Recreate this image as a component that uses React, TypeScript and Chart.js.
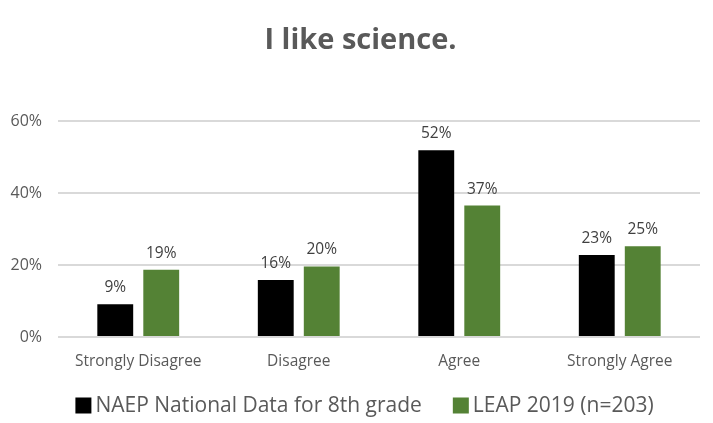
import React, { useEffect, useRef } from "react";
import { Chart, registerables } from "chart.js";

Chart.register(...registerables);

const categories = ["Strongly Disagree", "Disagree", "Agree", "Strongly Agree"];
const naepValues = [9.1, 15.8, 51.9, 22.8];
const leapValues = [18.7, 19.6, 36.5, 25.2];
const naepLabel = "NAEP National Data for 8th grade";
const leapLabel = "LEAP 2019 (n=203)";
const yTicks = [0, 20, 40, 60];
const titleText = "I like science.";
const naepColor = "#000000";
const leapColor = "#548235";

const FONT = "'Open Sans', 'Noto Sans', sans-serif";

const dataLabelPlugin = {
  id: "dataLabels",
  afterDatasetsDraw(chart: any) {
    const ctx = chart.ctx;
    ctx.save();
    ctx.fillStyle = "#404040";
    ctx.font = `15.5px ${FONT}`;
    ctx.textAlign = "center";
    ctx.textBaseline = "alphabetic";
    chart.data.datasets.forEach((ds: any, di: number) => {
      const meta = chart.getDatasetMeta(di);
      meta.data.forEach((bar: any, i: number) => {
        ctx.fillText(Math.round(ds.data[i]) + "%", bar.x, bar.y - 12);
      });
    });
    ctx.restore();
  },
};

const titlePlugin = {
  id: "customTitle",
  afterDraw(chart: any) {
    const ctx = chart.ctx;
    ctx.save();
    ctx.font = `bold 29px ${FONT}`;
    ctx.fillStyle = "#595959";
    ctx.textAlign = "center";
    ctx.textBaseline = "middle";
    ctx.fillText(titleText, chart.width / 2 + 4, 40.5);
    ctx.restore();
  },
};

const customLegendPlugin = {
  id: "customLegend",
  afterDraw(chart: any) {
    const ctx = chart.ctx;
    ctx.save();
    ctx.font = `21px ${FONT}`;
    ctx.textBaseline = "middle";
    ctx.textAlign = "left";
    const box = 16;
    const gap = 4;
    const itemGap = 31;
    const items = chart.data.datasets.map((ds: any) => ({
      text: ds.label,
      color: ds.backgroundColor,
      w: ctx.measureText(ds.label).width,
    }));
    let total = 0;
    items.forEach((it: any, i: number) => {
      total += box + gap + it.w + (i > 0 ? itemGap : 0);
    });
    const cy = chart.chartArea.bottom + 68.5;
    let x = chart.width / 2 + 8 - total / 2;
    items.forEach((it: any) => {
      ctx.fillStyle = it.color;
      ctx.fillRect(x, cy - box / 2, box, box);
      ctx.fillStyle = "#595959";
      ctx.fillText(it.text, x + box + gap, cy + 1);
      x += box + gap + it.w + itemGap;
    });
    ctx.restore();
  },
};

export default function App() {
  const ref = useRef<HTMLCanvasElement>(null);
  useEffect(() => {
    const chart = new Chart(ref.current!, {
      type: "bar",
      data: {
        labels: categories,
        datasets: [
          { label: naepLabel, data: naepValues, backgroundColor: naepColor, categoryPercentage: 0.573, barPercentage: 0.78 },
          { label: leapLabel, data: leapValues, backgroundColor: leapColor, categoryPercentage: 0.573, barPercentage: 0.78 },
        ],
      },
      options: {
        animation: false,
        responsive: false,
        maintainAspectRatio: false,
        layout: { padding: { left: 2, right: 13, top: 121, bottom: 0 } },
        plugins: {
          title: { display: false },
          legend: { display: false },
          tooltip: { enabled: false },
        },
        scales: {
          x: {
            grid: { display: false },
            border: { display: false },
            afterFit: (axis: any) => {
              axis.height = 86;
            },
            ticks: { color: "#595959", font: { family: FONT, size: 15.5 }, padding: 7 },
          },
          y: {
            min: 0,
            max: 60,
            afterBuildTicks: (axis: any) => {
              axis.ticks = yTicks.map((v) => ({ value: v }));
            },
            afterFit: (axis: any) => {
              axis.width = 56;
            },
            grid: { color: "#d9d9d9", lineWidth: 2, drawTicks: false },
            border: { display: false },
            ticks: {
              color: "#595959",
              font: { family: FONT, size: 16 },
              padding: 16,
              callback: (v: any) => v + "%",
            },
          },
        },
      },
      plugins: [dataLabelPlugin, titlePlugin, customLegendPlugin],
    });
    return () => chart.destroy();
  }, []);
  return (
    <div style={{ position: "fixed", left: 0, top: 0, width: 713, height: 423, background: "#fff" }}>
      <canvas ref={ref} width={713} height={423} />
    </div>
  );
}
